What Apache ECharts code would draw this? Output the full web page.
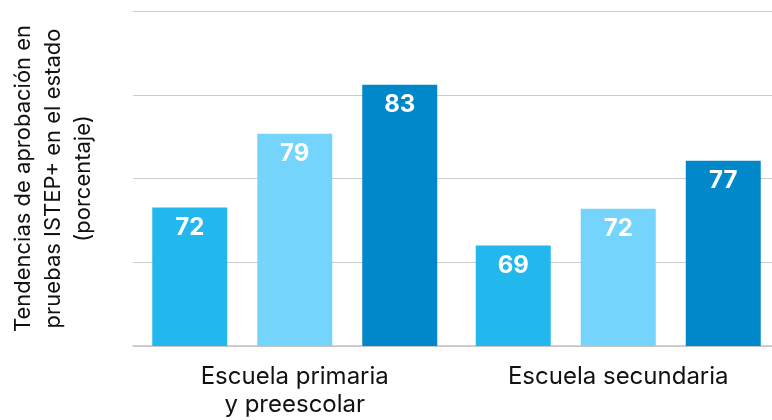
<!DOCTYPE html>
<html>
<head>
<meta charset="utf-8">
<script src="https://cdn.jsdelivr.net/npm/echarts@6/dist/echarts.min.js"></script>
<style>
html,body{margin:0;padding:0;background:#fff;}
#c{width:772px;height:420px;}
</style>
</head>
<body>
<div id="c"></div>
<script>
const categories = ["Escuela primaria\ny preescolar", "Escuela secundaria"];
const seriesNames = ["Serie 1", "Serie 2", "Serie 3"];
const series1 = [72.4, 69.0];
const series2 = [79.0, 72.3];
const series3 = [83.4, 76.6];
const colors = ["#22b8ee", "#74d4fc", "#0088cb"];
const yName = "Tendencias de aprobación en\npruebas ISTEP+ en el estado\n(porcentaje)";

const font = "Inter, Roboto, sans-serif";
const data = [series1, series2, series3];

const chart = echarts.init(document.getElementById('c'));
chart.setOption({
  animation: false,
  grid: {left: 133, right: -8, top: 11, bottom: 74, containLabel: false, outerBoundsMode: 'none'},
  xAxis: {
    type: 'category',
    data: categories,
    axisTick: {show: false},
    axisLine: {lineStyle: {color: '#c4c4c4', width: 1.5}},
    axisLabel: {color: '#111', fontSize: 24, lineHeight: 28, margin: 17, fontFamily: font}
  },
  yAxis: {
    type: 'value',
    min: 60, max: 90, interval: 7.5,
    axisLabel: {show: false},
    axisLine: {show: false},
    axisTick: {show: false},
    splitLine: {lineStyle: {color: '#cccccc', width: 1}},
    name: yName,
    nameLocation: 'middle',
    nameRotate: 90,
    nameGap: 35,
    nameTextStyle: {color: '#111', fontSize: 22, lineHeight: 30, fontFamily: font, align: 'center'}
  },
  series: data.map((d, i) => ({
    name: seriesNames[i],
    type: 'bar',
    data: d,
    barWidth: 75,
    barGap: '40%',
    itemStyle: {color: colors[i]},
    label: {
      show: true,
      position: 'insideTop',
      distance: 8,
      color: '#fff',
      fontSize: 24,
      fontWeight: 'bold',
      fontFamily: font,
      formatter: p => Math.round(p.value)
    }
  }))
});
</script>
</body>
</html>
